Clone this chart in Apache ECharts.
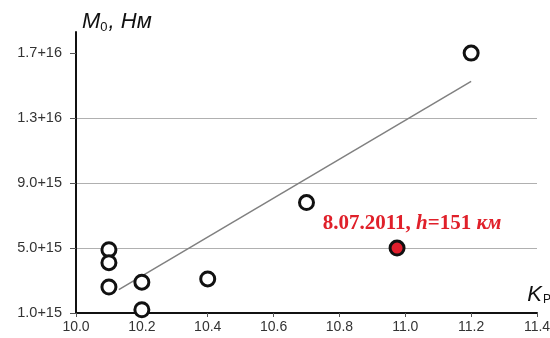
<!DOCTYPE html>
<html>
<head>
<meta charset="utf-8">
<script src="https://cdn.jsdelivr.net/npm/echarts@6/dist/echarts.min.js"></script>
<style>
html,body{margin:0;padding:0;background:#fff;}
#chart{width:550px;height:338px;}
</style>
</head>
<body>
<div id="chart"></div>
<script>
// Data
var kpValues = [10.1, 10.1, 10.1, 10.2, 10.2, 10.4, 10.7, 11.2];
var m0Values = [4.9e15, 4.1e15, 2.6e15, 2.9e15, 1.2e15, 3.1e15, 7.8e15, 1.7e16];
var highlightKp = [10.975];
var highlightM0 = [5.0e15];
var trendKp = [10.13, 11.2];
var trendM0 = [2.44e15, 1.526e16];
var yTickValues = [1e15, 5e15, 9e15, 1.3e16, 1.7e16];
var yTickLabels = ['1.0+15', '5.0+15', '9.0+15', '1.3+16', '1.7+16'];
var xTickLabels = ['10.0', '10.2', '10.4', '10.6', '10.8', '11.0', '11.2', '11.4'];

var chart = echarts.init(document.getElementById('chart'), null, {renderer: 'canvas'});

function zip(a, b) { return a.map(function (v, i) { return [v, b[i]]; }); }

var option = {
  backgroundColor: '#fff',
  animation: false,
  grid: {left: 76, right: 13, top: 32, bottom: 25, containLabel: false, outerBoundsMode: 'none'},
  xAxis: {
    type: 'value',
    min: 10.0, max: 11.4, interval: 0.2,
    name: '{k|K}{s|Р}',
    nameLocation: 'end',
    nameGap: 0,
    nameTextStyle: {
      align: 'right', verticalAlign: 'bottom', padding: [0, -14, 7, 0],
      rich: {
        k: {fontFamily: 'Liberation Sans', fontStyle: 'italic', fontSize: 22, color: '#111'},
        s: {fontFamily: 'Liberation Sans', fontSize: 12, color: '#111', verticalAlign: 'bottom', padding: [10, 0, 0, 1]}
      }
    },
    axisLine: {show: true, lineStyle: {color: '#111', width: 2}},
    axisTick: {show: true, length: 4, lineStyle: {color: '#555'}},
    axisLabel: {
      margin: 7, fontFamily: 'Liberation Sans', fontSize: 14, color: '#333',
      formatter: function (v) {
        var idx = Math.round((v - 10.0) / 0.2);
        return xTickLabels[idx] !== undefined ? xTickLabels[idx] : '';
      }
    },
    splitLine: {show: false}
  },
  yAxis: {
    type: 'value',
    min: 1e15, max: 1.83e16, interval: 4e15,
    name: '{m|M}{sub|0}{m|, Нм}',
    nameLocation: 'end',
    nameGap: -2,
    nameTextStyle: {
      align: 'left', verticalAlign: 'bottom', padding: [0, 0, 0, 6],
      rich: {
        m: {fontFamily: 'Liberation Sans', fontStyle: 'italic', fontSize: 22, color: '#111'},
        sub: {fontFamily: 'Liberation Sans', fontSize: 13, color: '#111', verticalAlign: 'bottom', padding: [12, 1, 0, 0]}
      }
    },
    axisLine: {show: true, lineStyle: {color: '#111', width: 2}},
    axisTick: {show: true, length: 6, customValues: yTickValues, lineStyle: {color: '#555'}},
    axisLabel: {
      margin: 14, fontFamily: 'Liberation Sans', fontSize: 14.5, color: '#333',
      customValues: yTickValues,
      formatter: function (v) {
        for (var i = 0; i < yTickValues.length; i++) {
          if (Math.abs(yTickValues[i] - v) < 1e12) return yTickLabels[i];
        }
        return '';
      }
    },
    splitLine: {show: true, showMinLine: false, showMaxLine: false, lineStyle: {color: '#b0b0b0', width: 1}}
  },
  series: [
    {
      type: 'line',
      data: zip(trendKp, trendM0),
      symbol: 'none',
      lineStyle: {color: '#808080', width: 1.5},
      silent: true,
      z: 2
    },
    {
      type: 'scatter',
      data: zip(kpValues, m0Values),
      symbol: 'circle',
      symbolSize: 14,
      itemStyle: {color: '#fff', borderColor: '#111', borderWidth: 3, opacity: 1},
      z: 3
    },
    {
      type: 'scatter',
      data: zip(highlightKp, highlightM0),
      symbol: 'circle',
      symbolSize: 14,
      itemStyle: {color: '#e01f2d', borderColor: '#111', borderWidth: 3, opacity: 1},
      label: {
        show: true,
        position: 'top',
        distance: 5,
        offset: [15, 0],
        formatter: '{b|8.07.2011, }{i|h}{b|=151 }{i|км}',
        rich: {
          b: {fontFamily: 'Liberation Serif', fontWeight: 'bold', fontSize: 21, color: '#e0202a'},
          i: {fontFamily: 'Liberation Serif', fontWeight: 'bold', fontStyle: 'italic', fontSize: 21, color: '#e0202a'}
        }
      },
      z: 4
    }
  ]
};
chart.setOption(option);
</script>
</body>
</html>
